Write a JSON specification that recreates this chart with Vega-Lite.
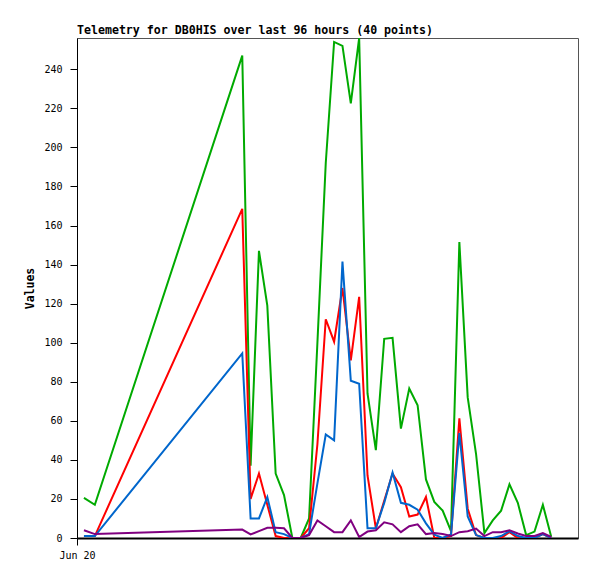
{
  "$schema": "https://vega.github.io/schema/vega-lite/v6.json",
  "autosize": {"type": "none"},
  "padding": {"left": 77, "top": 38, "right": 19, "bottom": 41},
  "width": 501,
  "height": 500,
  "background": "white",
  "title": {
    "text": "Telemetry for DB0HIS over last 96 hours (40 points)",
    "anchor": "start",
    "frame": "group",
    "font": "DejaVu Sans Mono",
    "fontSize": 11.6,
    "fontWeight": "bold",
    "color": "black",
    "offset": 1
  },
  "config": {
    "view": {"stroke": "#555555", "strokeWidth": 1},
    "axis": {"grid": false}
  },
  "data": {
    "values": [
      {"time": "2024-06-20T01:20:00", "ch1": 20.5, "ch2": 1, "ch3": 1, "ch4": 4},
      {"time": "2024-06-20T03:25:00", "ch1": 17, "ch2": 1, "ch3": 1, "ch4": 2},
      {"time": "2024-06-21T07:40:00", "ch1": 247, "ch2": 168.5, "ch3": 94.5, "ch4": 4.3},
      {"time": "2024-06-21T09:16:00", "ch1": 37, "ch2": 20, "ch3": 10, "ch4": 1.8},
      {"time": "2024-06-21T10:52:00", "ch1": 147, "ch2": 33, "ch3": 10, "ch4": 3.5},
      {"time": "2024-06-21T12:28:00", "ch1": 119, "ch2": 17, "ch3": 21, "ch4": 5.2},
      {"time": "2024-06-21T14:04:00", "ch1": 33, "ch2": 1, "ch3": 3, "ch4": 5.2},
      {"time": "2024-06-21T15:40:00", "ch1": 22, "ch2": 0, "ch3": 2, "ch4": 5},
      {"time": "2024-06-21T17:16:00", "ch1": 0, "ch2": 0, "ch3": 0, "ch4": 0},
      {"time": "2024-06-21T18:52:00", "ch1": 0, "ch2": 0, "ch3": 0, "ch4": 0},
      {"time": "2024-06-21T20:28:00", "ch1": 10, "ch2": 5, "ch3": 2, "ch4": 1.5},
      {"time": "2024-06-21T22:04:00", "ch1": 100, "ch2": 48, "ch3": 28, "ch4": 9},
      {"time": "2024-06-21T23:40:00", "ch1": 192, "ch2": 112, "ch3": 53, "ch4": 6},
      {"time": "2024-06-22T01:16:00", "ch1": 254, "ch2": 100.5, "ch3": 50, "ch4": 3},
      {"time": "2024-06-22T02:52:00", "ch1": 252, "ch2": 128, "ch3": 141.5, "ch4": 3},
      {"time": "2024-06-22T04:28:00", "ch1": 222.5, "ch2": 91, "ch3": 80.5, "ch4": 9},
      {"time": "2024-06-22T06:04:00", "ch1": 256, "ch2": 123.5, "ch3": 79, "ch4": 0.5},
      {"time": "2024-06-22T07:40:00", "ch1": 74, "ch2": 32, "ch3": 5, "ch4": 3.3},
      {"time": "2024-06-22T09:16:00", "ch1": 45, "ch2": 5, "ch3": 5, "ch4": 4},
      {"time": "2024-06-22T10:52:00", "ch1": 102, "ch2": 19, "ch3": 18, "ch4": 8},
      {"time": "2024-06-22T12:28:00", "ch1": 102.5, "ch2": 33, "ch3": 33.5, "ch4": 7},
      {"time": "2024-06-22T14:04:00", "ch1": 56, "ch2": 26, "ch3": 18, "ch4": 3},
      {"time": "2024-06-22T15:40:00", "ch1": 76.5, "ch2": 11, "ch3": 17, "ch4": 6},
      {"time": "2024-06-22T17:16:00", "ch1": 68, "ch2": 12, "ch3": 14.5, "ch4": 7},
      {"time": "2024-06-22T18:52:00", "ch1": 30, "ch2": 21, "ch3": 7.5, "ch4": 2},
      {"time": "2024-06-22T20:28:00", "ch1": 18.5, "ch2": 0, "ch3": 1.7, "ch4": 2.5},
      {"time": "2024-06-22T22:04:00", "ch1": 14, "ch2": 0, "ch3": 0, "ch4": 2},
      {"time": "2024-06-22T23:40:00", "ch1": 3.5, "ch2": 1, "ch3": 1.8, "ch4": 1},
      {"time": "2024-06-23T01:16:00", "ch1": 151.5, "ch2": 61.3, "ch3": 53.7, "ch4": 3},
      {"time": "2024-06-23T02:52:00", "ch1": 72, "ch2": 15, "ch3": 11, "ch4": 3.5},
      {"time": "2024-06-23T04:28:00", "ch1": 43, "ch2": 1.5, "ch3": 1.5, "ch4": 4.8},
      {"time": "2024-06-23T06:04:00", "ch1": 2.5, "ch2": 0, "ch3": 0, "ch4": 1},
      {"time": "2024-06-23T07:40:00", "ch1": 9, "ch2": 0, "ch3": 0, "ch4": 3},
      {"time": "2024-06-23T09:16:00", "ch1": 14, "ch2": 0, "ch3": 1, "ch4": 3},
      {"time": "2024-06-23T10:52:00", "ch1": 27.5, "ch2": 3, "ch3": 3.5, "ch4": 4},
      {"time": "2024-06-23T12:28:00", "ch1": 18, "ch2": 0, "ch3": 1, "ch4": 2.3},
      {"time": "2024-06-23T14:04:00", "ch1": 1.5, "ch2": 0, "ch3": 0, "ch4": 1},
      {"time": "2024-06-23T15:40:00", "ch1": 3.3, "ch2": 0, "ch3": 0, "ch4": 1},
      {"time": "2024-06-23T17:16:00", "ch1": 17, "ch2": 2, "ch3": 2, "ch4": 2.5},
      {"time": "2024-06-23T18:52:00", "ch1": 0.7, "ch2": 0, "ch3": 0, "ch4": 0.5}
    ]
  },
  "transform": [{"fold": ["ch1", "ch2", "ch3", "ch4"], "as": ["series", "value"]}],
  "mark": {"type": "line", "strokeWidth": 2, "interpolate": "linear", "clip": true},
  "encoding": {
    "x": {
      "field": "time",
      "type": "temporal",
      "scale": {"domain": [{"year": 2024, "month": 6, "date": 20}, {"year": 2024, "month": 6, "date": 24}]},
      "axis": {
        "title": null,
        "values": [{"year": 2024, "month": 6, "date": 20}],
        "format": "%b %d",
        "labelFont": "DejaVu Sans Mono",
        "labelFontSize": 10,
        "labelColor": "black",
        "labelPadding": 5,
        "labelFlush": false,
        "labelAlign": "center",
        "tickSize": 7,
        "tickColor": "black",
        "domainColor": "black",
        "domainWidth": 2
      }
    },
    "y": {
      "field": "value",
      "type": "quantitative",
      "scale": {"domain": [0, 256], "nice": false},
      "axis": {
        "title": "Values",
        "values": [0, 20, 40, 60, 80, 100, 120, 140, 160, 180, 200, 220, 240],
        "titleFont": "DejaVu Sans Mono",
        "titleFontWeight": "bold",
        "titleFontSize": 11.5,
        "titleColor": "black",
        "titlePadding": 8,
        "labelFont": "DejaVu Sans Mono",
        "labelFontSize": 10,
        "labelColor": "black",
        "labelPadding": 8,
        "tickSize": 7,
        "tickColor": "black",
        "domainColor": "black"
      }
    },
    "color": {
      "field": "series",
      "type": "nominal",
      "scale": {"domain": ["ch1", "ch2", "ch3", "ch4"], "range": ["#00aa00", "#ff0000", "#0066cc", "#800080"]},
      "legend": null
    }
  }
}
